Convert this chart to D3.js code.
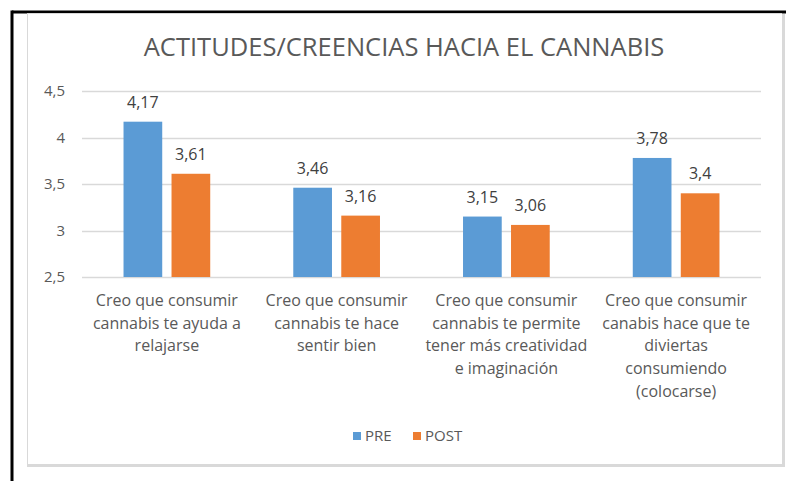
<!DOCTYPE html>
<html><head><meta charset="utf-8">
<script src="https://cdn.jsdelivr.net/npm/d3@7"></script>
<style>body{margin:0;background:#fff}svg{display:block}</style>
</head><body>
<svg id="c" width="786" height="481"></svg>
<script>
const title = "ACTITUDES/CREENCIAS HACIA EL CANNABIS";
const categories = [
  ["Creo que consumir","cannabis te ayuda a","relajarse"],
  ["Creo que consumir","cannabis te hace","sentir bien"],
  ["Creo que consumir","cannabis te permite","tener más creatividad","e imaginación"],
  ["Creo que consumir","canabis hace que te","diviertas","consumiendo","(colocarse)"]
];
const seriesNames = ["PRE","POST"];
const preValues = [4.17, 3.46, 3.15, 3.78];
const postValues = [3.61, 3.16, 3.06, 3.4];
const preLabels = ["4,17","3,46","3,15","3,78"];
const postLabels = ["3,61","3,16","3,06","3,4"];
const yTicks = [2.5, 3, 3.5, 4, 4.5];
const yTickLabels = ["2,5","3","3,5","4","4,5"];
const colors = ["#5B9BD5","#ED7D31"];

const svg = d3.select("#c");
const font = "'Open Sans', sans-serif";

// outer black frame
svg.append("line").attr("x1",12).attr("x2",786).attr("y1",12).attr("y2",12).attr("stroke","#000").attr("stroke-width",3);
svg.append("line").attr("x1",12).attr("x2",12).attr("y1",10.5).attr("y2",481).attr("stroke","#000").attr("stroke-width",3);
// chart area box with shadow
svg.append("rect").attr("x",27).attr("y",464).attr("width",758).attr("height",3).attr("fill","#D9D9D9");
svg.append("rect").attr("x",782).attr("y",14).attr("width",3).attr("height",453).attr("fill","#D9D9D9");
svg.append("line").attr("x1",27.5).attr("x2",27.5).attr("y1",14).attr("y2",464).attr("stroke","#D9D9D9");
svg.append("line").attr("x1",27).attr("x2",782).attr("y1",13.5).attr("y2",13.5).attr("stroke","#D9D9D9");

const x0 = d3.scaleBand().domain(d3.range(categories.length)).range([82,761]).paddingInner(0).paddingOuter(0);
const y = d3.scaleLinear().domain([2.5,4.5]).range([277,91]);

// title
svg.append("text").attr("x",404).attr("y",56).attr("text-anchor","middle")
  .attr("font-family",font).attr("font-size",25.5).attr("fill","#595959").text(title);

// gridlines
svg.append("g").selectAll("line").data(yTicks).join("line")
  .attr("x1",82).attr("x2",761).attr("y1",d=>Math.round(y(d))+0.5).attr("y2",d=>Math.round(y(d))+0.5)
  .attr("stroke","#D9D9D9").attr("stroke-width",1.5);

// y tick labels
svg.append("g").selectAll("text").data(yTicks).join("text")
  .attr("x",65).attr("y",d=>y(d)).attr("dy","0.35em").attr("text-anchor","end")
  .attr("font-family",font).attr("font-size",15).attr("fill","#595959")
  .text((d,i)=>yTickLabels[i]);

const barW = 38.7, gap = 9.3;
const series = [preValues, postValues];
const labels = [preLabels, postLabels];
series.forEach((vals,s)=>{
  const g = svg.append("g");
  g.selectAll("rect").data(vals).join("rect")
    .attr("x",(d,i)=>x0(i)+x0.bandwidth()/2 + (s===0 ? -gap/2-barW : gap/2))
    .attr("width",barW)
    .attr("y",d=>y(d)).attr("height",d=>y(2.5)-y(d))
    .attr("fill",colors[s]);
  g.selectAll("text").data(vals).join("text")
    .attr("x",(d,i)=>x0(i)+x0.bandwidth()/2 + (s===0 ? -gap/2-barW/2 : gap/2+barW/2))
    .attr("y",d=>y(d)-14)
    .attr("text-anchor","middle").attr("font-family",font).attr("font-size",16).attr("fill","#404040")
    .text((d,i)=>labels[s][i]);
});

// category labels
categories.forEach((lines,i)=>{
  const t = svg.append("text").attr("text-anchor","middle").attr("font-family",font)
    .attr("font-size",16).attr("fill","#595959");
  lines.forEach((ln,k)=>{
    t.append("tspan").attr("x",x0(i)+x0.bandwidth()/2).attr("y",306+k*22.7).text(ln);
  });
});

// legend
const leg = svg.append("g");
const legItems = [{n:"PRE",x:353},{n:"POST",x:413}];
legItems.forEach((it,i)=>{
  leg.append("rect").attr("x",it.x).attr("y",432).attr("width",8).attr("height",8).attr("fill",colors[i]);
  leg.append("text").attr("x",it.x+12).attr("y",436).attr("dy","0.35em").attr("font-family",font)
    .attr("font-size",15).attr("fill","#595959").text(it.n);
});
</script>
</body></html>
